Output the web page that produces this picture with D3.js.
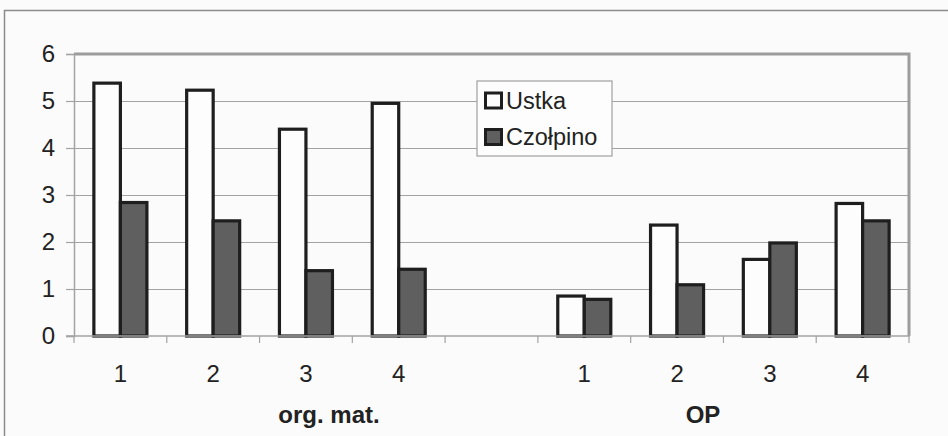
<!DOCTYPE html>
<html>
<head>
<meta charset="utf-8">
<script src="https://cdn.jsdelivr.net/npm/d3@7"></script>
<style>
  html, body { margin: 0; padding: 0; background: #fbfbfb; }
  svg { display: block; font-family: "Liberation Sans", Arial, sans-serif; }
</style>
</head>
<body>
<svg id="chart" width="948" height="436"></svg>
<script>
// Category slots along the x axis (an empty slot separates the two groups)
const slots = ["om1", "om2", "om3", "om4", "gap", "op1", "op2", "op3", "op4"];
const slotLabels = ["1", "2", "3", "4", "", "1", "2", "3", "4"];
const series = ["Ustka", "Czołpino"];
const ustka = [5.38, 5.23, 4.40, 4.95, null, 0.85, 2.36, 1.63, 2.82];
const czolpino = [2.84, 2.45, 1.39, 1.42, null, 0.78, 1.09, 1.98, 2.45];
const groupNames = ["org. mat.", "OP"];
const yTicks = [0, 1, 2, 3, 4, 5, 6];

const fills = { "Ustka": "#fdfdfd", "Czołpino": "#5f5f5f" };
const textColor = "#222";
const gridColor = "#a3a3a3";

const svg = d3.select("#chart");
const plot = { left: 74, right: 909, top: 54, bottom: 336 };

const x0 = d3.scaleBand().domain(slots).range([plot.left, plot.right]).paddingInner(0).paddingOuter(0);
const x1 = d3.scaleBand().domain(series).range([0, x0.bandwidth()]).paddingInner(0).paddingOuter(0.75);
const y = d3.scaleLinear().domain([0, 6]).range([plot.bottom, plot.top]);

// outer chart frame (left and top edges)
svg.append("path")
  .attr("d", `M4.5,436 V10.5 H948`)
  .attr("fill", "none").attr("stroke", "#8a8a8a").attr("stroke-width", 1.5);

// horizontal gridlines
svg.append("g").selectAll("line")
  .data(yTicks.filter(t => t > 0 && t < 6))
  .join("line")
  .attr("x1", plot.left).attr("x2", plot.right)
  .attr("y1", d => Math.round(y(d)) + 0.5).attr("y2", d => Math.round(y(d)) + 0.5)
  .attr("stroke", gridColor).attr("stroke-width", 1.2);

// plot area border: top and right
svg.append("path")
  .attr("d", `M${plot.left},${plot.top} H${plot.right} V${plot.bottom}`)
  .attr("fill", "none").attr("stroke", "#9c9c9c").attr("stroke-width", 3);

// bars
const rows = slots.map((s, i) => ({ slot: s, values: [ustka[i], czolpino[i]] }));
const bars = svg.append("g");
rows.forEach(r => {
  r.values.forEach((v, j) => {
    if (v == null) return;
    const name = series[j];
    bars.append("rect")
      .attr("x", x0(r.slot) + x1(name))
      .attr("y", y(v))
      .attr("width", x1.bandwidth())
      .attr("height", y(0) - y(v))
      .attr("fill", fills[name])
      .attr("stroke", "#1e1e1e")
      .attr("stroke-width", 3.2);
  });
});

// y axis
const yAxis = svg.append("g").attr("transform", `translate(${plot.left},0)`)
  .call(d3.axisLeft(y).tickValues(yTicks).tickSize(8).tickPadding(11).tickFormat(d3.format("d")));
yAxis.select(".domain").attr("stroke", gridColor).attr("stroke-width", 1.5);
yAxis.selectAll(".tick line").attr("stroke", gridColor).attr("stroke-width", 1.2);
yAxis.selectAll(".tick text").attr("fill", textColor).attr("font-size", 24)
  .attr("font-family", "'Liberation Sans', Arial, sans-serif");

// x axis line with ticks at slot boundaries
svg.append("line")
  .attr("x1", 66).attr("x2", plot.right + 1)
  .attr("y1", plot.bottom).attr("y2", plot.bottom)
  .attr("stroke", gridColor).attr("stroke-width", 1.5);
svg.append("g").selectAll("line")
  .data(slots.concat(["end"]))
  .join("line")
  .attr("x1", (d, i) => i < slots.length ? x0(d) : plot.right)
  .attr("x2", (d, i) => i < slots.length ? x0(d) : plot.right)
  .attr("y1", plot.bottom).attr("y2", plot.bottom + 7)
  .attr("stroke", gridColor).attr("stroke-width", 1.2);

// category labels
svg.append("g").selectAll("text")
  .data(slots)
  .join("text")
  .attr("x", d => x0(d) + x0.bandwidth() / 2)
  .attr("y", 382)
  .attr("text-anchor", "middle")
  .attr("font-size", 24)
  .attr("fill", textColor)
  .text((d, i) => slotLabels[i]);

// group labels
const groupX = [329, 703];
svg.append("g").selectAll("text")
  .data(groupNames)
  .join("text")
  .attr("x", (d, i) => groupX[i])
  .attr("y", 423)
  .attr("text-anchor", "middle")
  .attr("font-size", 24)
  .attr("font-weight", "bold")
  .attr("fill", textColor)
  .text(d => d);

// legend
const legend = svg.append("g").attr("transform", "translate(477,81)");
legend.append("rect")
  .attr("x", 0).attr("y", 0).attr("width", 135).attr("height", 75)
  .attr("fill", "#fdfdfd").attr("stroke", "#a0a0a0").attr("stroke-width", 1.2);
series.forEach((name, i) => {
  const gy = 12 + i * 36.5;
  legend.append("rect")
    .attr("x", 8.5).attr("y", gy).attr("width", 16).attr("height", 15)
    .attr("fill", fills[name]).attr("stroke", "#1e1e1e").attr("stroke-width", 3);
  legend.append("text")
    .attr("x", 29).attr("y", gy + 15.5)
    .attr("font-size", 23.5)
    .attr("fill", textColor)
    .text(name);
});
</script>
</body>
</html>
